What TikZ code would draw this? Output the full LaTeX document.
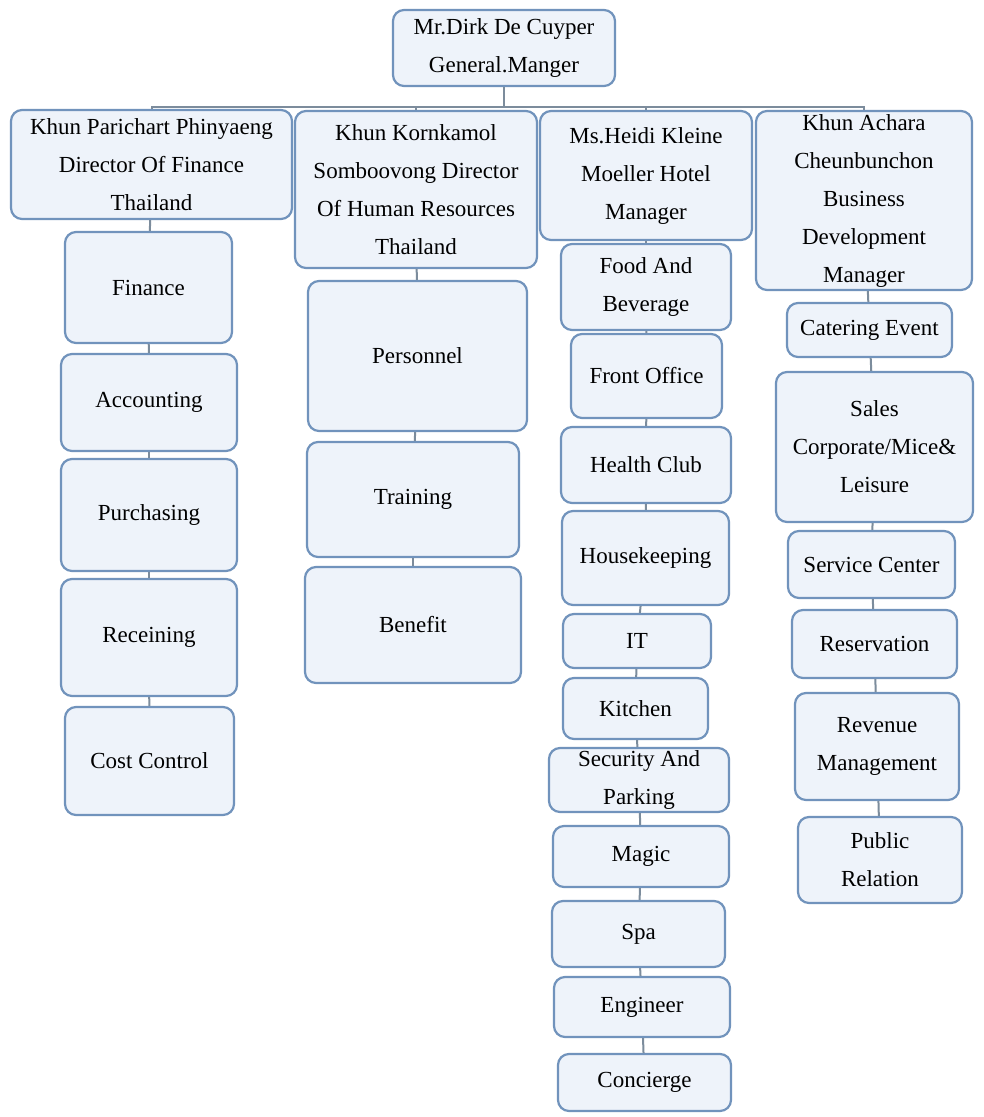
\documentclass[tikz,border=0pt]{standalone}
\usepackage{fontspec}
\setmainfont{Liberation Serif}
\usepackage{tikz}
\usetikzlibrary{positioning}
\definecolor{boxfill}{HTML}{EEF3FA}
\definecolor{boxline}{HTML}{7193BC}
\definecolor{linkline}{HTML}{7C8C9C}
\tikzstyle{block} = [draw=boxline, fill=boxfill, rectangle, rounded corners=11pt,
  line width=2.2pt, inner sep=0pt, align=center, text=black,
  font=\fontsize{23}{38}\selectfont]
\tikzstyle{link} = [draw=linkline, line width=2pt]

\begin{document}
\begin{tikzpicture}[x=1pt, y=-1pt]
  \useasboundingbox[fill=white] (0,0) rectangle (984,1117);
  % top
  \node[block, minimum width=222, minimum height=76] (gm) at (504,48) {Mr.Dirk De Cuyper\\General.Manger};
  \coordinate (bar) at (504,107);
  % directors
  \node[block, minimum width=281, minimum height=109] (d1) at (151.5,164.5) {Khun Parichart Phinyaeng\\Director Of Finance\\Thailand};
  \node[block, minimum width=242, minimum height=157] (d2) at (416,189.5) {Khun Kornkamol\\Somboovong Director\\Of Human Resources\\Thailand};
  \node[block, minimum width=212, minimum height=129] (d3) at (646,175.5) {Ms.Heidi Kleine\\Moeller Hotel\\Manager};
  \node[block, minimum width=216, minimum height=179] (d4) at (864,200.5) {Khun Achara\\Cheunbunchon\\Business\\Development\\Manager};
  % finance
  \node[block, minimum width=167, minimum height=111] (fin) at (148.5,287.5) {Finance};
  \node[block, minimum width=176, minimum height=97] (acc) at (149,402.5) {Accounting};
  \node[block, minimum width=176, minimum height=112] (pur) at (149,515) {Purchasing};
  \node[block, minimum width=176, minimum height=117] (rec) at (149,637.5) {Receining};
  \node[block, minimum width=169, minimum height=108] (cost) at (149.5,761) {Cost Control};
  % human resources
  \node[block, minimum width=219, minimum height=150] (pers) at (417.5,356) {Personnel};
  \node[block, minimum width=212, minimum height=115] (train) at (413,499.5) {Training};
  \node[block, minimum width=216, minimum height=116] (ben) at (413,625) {Benefit};
  % hotel
  \node[block, minimum width=170, minimum height=86] (fab) at (646,287) {Food And\\Beverage};
  \node[block, minimum width=151, minimum height=84] (fo) at (646.5,376) {Front Office};
  \node[block, minimum width=170, minimum height=76] (hc) at (646,465) {Health Club};
  \node[block, minimum width=167, minimum height=94] (hk) at (645.5,558) {Housekeeping};
  \node[block, minimum width=148, minimum height=54] (it) at (637,641) {IT};
  \node[block, minimum width=145, minimum height=61] (kit) at (635.5,708.5) {Kitchen};
  \node[block, minimum width=180, minimum height=64] (sec) at (639,780) {Security And\\Parking};
  \node[block, minimum width=176, minimum height=61] (mag) at (641,856.5) {Magic};
  \node[block, minimum width=173, minimum height=66] (spa) at (638.5,934) {Spa};
  \node[block, minimum width=176, minimum height=60] (eng) at (642,1007) {Engineer};
  \node[block, minimum width=173, minimum height=57] (con) at (644.5,1082.5) {Concierge};
  % business development
  \node[block, minimum width=165, minimum height=54] (cat) at (869.5,330) {Catering Event};
  \node[block, minimum width=197, minimum height=150] (sales) at (874.5,447) {Sales\\Corporate/Mice\&\\Leisure};
  \node[block, minimum width=167, minimum height=67] (svc) at (871.5,564.5) {Service Center};
  \node[block, minimum width=165, minimum height=68] (res) at (874.5,644) {Reservation};
  \node[block, minimum width=164, minimum height=107] (rev) at (877,746.5) {Revenue\\Management};
  \node[block, minimum width=164, minimum height=86] (pr) at (880,860) {Public\\Relation};
  % connectors
  \draw[link] (gm) -- (bar);
  \foreach \d in {d1,d2,d3,d4}
    \draw[link] (bar) -| (\d);
  \foreach \a/\b in {d1/fin, fin/acc, acc/pur, pur/rec, rec/cost,
                     d2/pers, pers/train, train/ben,
                     d3/fab, fab/fo, fo/hc, hc/hk, hk/it, it/kit, kit/sec,
                     sec/mag, mag/spa, spa/eng, eng/con,
                     d4/cat, cat/sales, sales/svc, svc/res, res/rev, rev/pr}
    \draw[link] (\a) -- (\b);
\end{tikzpicture}
\end{document}
